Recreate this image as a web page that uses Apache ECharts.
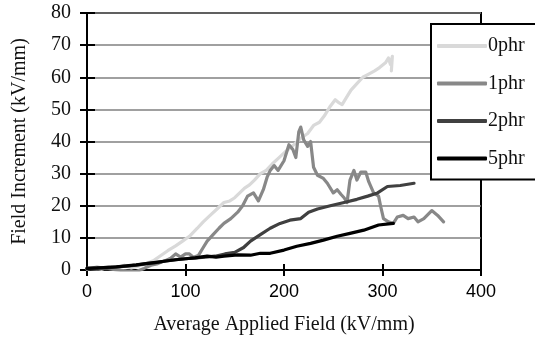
<!DOCTYPE html>
<html>
<head>
<meta charset="utf-8">
<script src="https://cdn.jsdelivr.net/npm/echarts@6/dist/echarts.min.js"></script>
<style>
  html, body { margin: 0; padding: 0; background: #fff; }
  #chart { width: 535px; height: 340px; }
</style>
</head>
<body>
<div id="chart"></div>
<script>
// series names
var names = ['0phr', '1phr', '2phr', '5phr'];
var colors = ['#d9d9d9', '#888888', '#404040', '#000000'];
var xTicks = [0, 100, 200, 300, 400];

// [average applied field, field increment]
var phr0 = [[0,0.3],[8,0.8],[15,0.2],[22,1],[30,0.5],[38,1.5],[45,0.6],[52,1.2],[60,2],[68,3],[75,4.5],[82,6],
  [90,7.5],[97,9],[104,10.5],[112,13],[118,15],[125,17],[132,19],[139,21],[145,21.5],[150,22.5],[155,24],
  [160,25.5],[165,26.5],[170,28],[176,30],[182,31],[188,33],[195,35],[202,37],[210,39],[217,41],[224,42.5],
  [230,45],[236,46],[241,48],[247,51],[252,53],[256,52],[259,51.5],[263,53.5],[268,56],[274,58],[280,60],
  [286,61],[292,62],[297,63],[303,64.5],[306,66],[308,64],[310,66.5],[309,62]];
var phr1 = [[0,0.5],[10,0.3],[20,0.5],[30,0],[40,-0.3],[50,-0.5],[58,0.5],[65,1.5],[72,2],[80,3],[85,3.7],
  [90,5],[95,4],[100,5],[104,5],[108,4],[113,4.5],[118,7],[122,9],[128,11],[134,13],[139,14.5],[146,16],
  [153,18],[158,20],[163,23],[169,24],[174,21.5],[179,25],[183,29],[186,31],[190,32.5],[194,31],[200,34],
  [205,39],[209,37.5],[212,35],[215,43],[217,44.5],[220,40.5],[224,38.5],[227,40],[230,32],[234,29.5],
  [240,28.5],[244,27],[250,24],[254,25],[258,23.5],[261,22.5],[264,21],[267,28],[271,31],[274,28],
  [278,30.5],[283,30.5],[286,27.5],[291,24],[296,23],[298,20],[301,16],[306,15],[311,14.5],[315,16.5],
  [321,17],[326,16],[332,16.5],[336,15],[342,16],[350,18.5],[356,17],[362,15]];
var phr2 = [[0,0.5],[10,0.8],[20,0.6],[30,1],[40,1.2],[50,1.5],[60,2],[70,2.3],[80,2.8],[90,3.2],[100,3.5],
  [110,3.8],[120,4],[130,4.3],[140,5],[150,5.5],[159,7],[166,9],[176,11],[186,13],[196,14.5],[206,15.5],
  [217,16],[225,18],[234,19],[247,20],[261,21],[274,22],[285,23],[295,24],[305,26],[318,26.3],[332,27]];
var phr5 = [[0,0.5],[10,0.6],[20,0.8],[30,1],[40,1.3],[50,1.6],[60,2],[70,2.4],[80,2.8],[90,3.2],[100,3.5],
  [110,3.8],[122,4.3],[131,4],[139,4.3],[153,4.7],[166,4.6],[176,5.2],[186,5.2],[200,6.2],[213,7.4],
  [227,8.3],[240,9.3],[254,10.5],[267,11.4],[281,12.4],[296,14],[311,14.5]];

var allData = [phr0, phr1, phr2, phr5];

var myChart = echarts.init(document.getElementById('chart'));

var series = [];
for (var i = 0; i < names.length; i++) {
    series.push({
        name: names[i],
        type: 'line',
        data: allData[i],
        symbol: 'none',
        smooth: false,
        color: colors[i],
        lineStyle: { color: colors[i], width: 3.2, join: 'round', cap: 'round' },
        z: 3 + i
    });
}

var option = {
    animation: false,
    grid: {
        left: 87, right: 54, top: 13, bottom: 68,
        show: true, borderColor: '#000', borderWidth: 2
    },
    legend: {
        data: names,
        orient: 'vertical',
        left: 431, top: 24,
        padding: [12, 40, 11, 6],
        itemGap: 17.5,
        itemWidth: 50,
        itemHeight: 4,
        icon: 'roundRect',
        backgroundColor: '#fff',
        borderColor: '#000',
        borderWidth: 2,
        textStyle: { fontFamily: 'Liberation Serif', fontSize: 20, color: '#111', padding: [0, 0, 0, -4], lineHeight: 20 }
    },
    xAxis: [{
        type: 'value', min: 0, max: 400, interval: 100,
        name: 'Average Applied Field (kV/mm)',
        nameLocation: 'middle', nameGap: 45,
        nameTextStyle: { fontFamily: 'Liberation Serif', fontSize: 20, color: '#111' },
        axisLine: { lineStyle: { color: '#000', width: 2 } },
        axisTick: { show: true, length: 6, lineStyle: { color: '#000', width: 2 } },
        axisLabel: { fontFamily: 'Liberation Sans', fontSize: 18, color: '#000', margin: 13 },
        splitLine: { show: false }
    }, {
        type: 'value', min: 0, max: 400, interval: 100, position: 'bottom',
        axisLine: { show: false },
        axisTick: { show: true, inside: true, length: 6, lineStyle: { color: '#000', width: 2 } },
        axisLabel: { show: false },
        splitLine: { show: false }
    }],
    yAxis: [{
        type: 'value', min: 0, max: 80, interval: 10,
        name: 'Field Increment (kV/mm)',
        nameLocation: 'middle', nameGap: 57, nameRotate: 90,
        nameTextStyle: { fontFamily: 'Liberation Serif', fontSize: 20, color: '#111' },
        axisLine: { show: true, lineStyle: { color: '#000', width: 2 } },
        axisTick: { show: true, length: 7, lineStyle: { color: '#000', width: 2 } },
        axisLabel: { fontFamily: 'Liberation Serif', fontSize: 20, color: '#111', margin: 16 },
        splitLine: { show: true, lineStyle: { color: '#808080', width: 1.5 } }
    }, {
        type: 'value', min: 0, max: 80, interval: 10, position: 'left',
        axisLine: { show: false },
        axisTick: { show: true, inside: true, length: 8, lineStyle: { color: '#000', width: 2 } },
        axisLabel: { show: false },
        splitLine: { show: false }
    }],
    series: series
};

myChart.setOption(option);
</script>
</body>
</html>
